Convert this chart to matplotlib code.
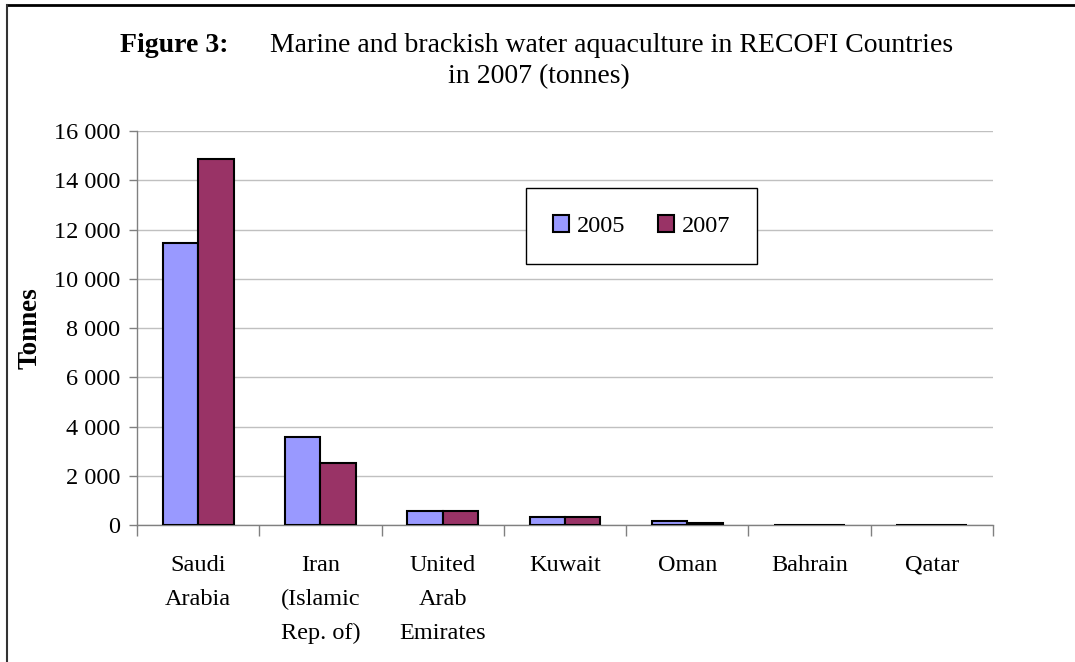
import matplotlib.pyplot as plt
import numpy as np
from matplotlib.lines import Line2D
from matplotlib.ticker import FuncFormatter

# Data
countries = ['Saudi\nArabia', 'Iran\n(Islamic\nRep. of)', 'United\nArab\nEmirates',
             'Kuwait', 'Oman', 'Bahrain', 'Qatar']
tonnes_2005 = [11450, 3580, 570, 330, 175, 0, 0]
tonnes_2007 = [14870, 2520, 570, 330, 80, 0, 0]

plt.rcParams['font.family'] = ['Liberation Serif', 'DejaVu Serif']

fig = plt.figure(figsize=(10.75, 6.62), dpi=100)
ax = fig.add_axes([0.1274, 0.2069, 0.7963, 0.5952])

x = np.arange(len(countries))
w = 0.29
ax.bar(x - w / 2, tonnes_2005, w, color='#9999ff', edgecolor='black', linewidth=1.5,
       label='2005', zorder=3)
ax.bar(x + w / 2, tonnes_2007, w, color='#993366', edgecolor='black', linewidth=1.5,
       label='2007', zorder=3)

ax.set_xlim(-0.5, len(countries) - 0.5)
ax.set_ylim(0, 16000)
ax.set_yticks(np.arange(0, 16001, 2000))
ax.yaxis.set_major_formatter(FuncFormatter(lambda v, p: f'{int(v):,}'.replace(',', ' ')))
ax.grid(axis='y', color='#c0c0c0', linewidth=1, zorder=0)

# category separators as ticks on the x axis
ax.set_xticks(np.arange(-0.5, len(countries), 1.0))
ax.set_xticklabels([])
ax.tick_params(axis='x', direction='out', length=8, color='#808080', width=1)
ax.tick_params(axis='y', direction='out', length=6, color='#808080', width=1,
               labelsize=17.5, pad=6)
for i, name in enumerate(countries):
    ax.text(i, -1200, name, ha='center', va='top', fontsize=17.5, linespacing=1.82)

for side in ['top', 'right']:
    ax.spines[side].set_visible(False)
for side in ['left', 'bottom']:
    ax.spines[side].set_color('#808080')
    ax.spines[side].set_linewidth(1)

ax.set_ylabel('Tonnes', fontsize=19.5, fontweight='bold', labelpad=8)

# Title
fig.text(0.112, 0.932, 'Figure 3:', fontsize=20, fontweight='bold', ha='left', va='center')
fig.text(0.251, 0.932, 'Marine and brackish water aquaculture in RECOFI Countries',
         fontsize=20, ha='left', va='center')
fig.text(0.501, 0.885, 'in 2007 (tonnes)', fontsize=20, ha='center', va='center')

leg = ax.legend(loc='center', bbox_to_anchor=(0.5967, 0.6586),
                bbox_transform=fig.transFigure, ncol=2, fontsize=17.5,
                frameon=True, fancybox=False, edgecolor='black', framealpha=1,
                handlelength=0.68, handleheight=0.68, handletextpad=0.3,
                columnspacing=1.35, borderpad=1.1)
leg.get_frame().set_linewidth(1)

# outer frame lines
fig.add_artist(Line2D([7 / 1075, 1], [1 - 5 / 662, 1 - 5 / 662], color='black', lw=2,
                      transform=fig.transFigure))
fig.add_artist(Line2D([7 / 1075, 7 / 1075], [0, 1 - 5 / 662], color='#333333', lw=1.5,
                      transform=fig.transFigure))

plt.savefig('out.png', dpi=100)
